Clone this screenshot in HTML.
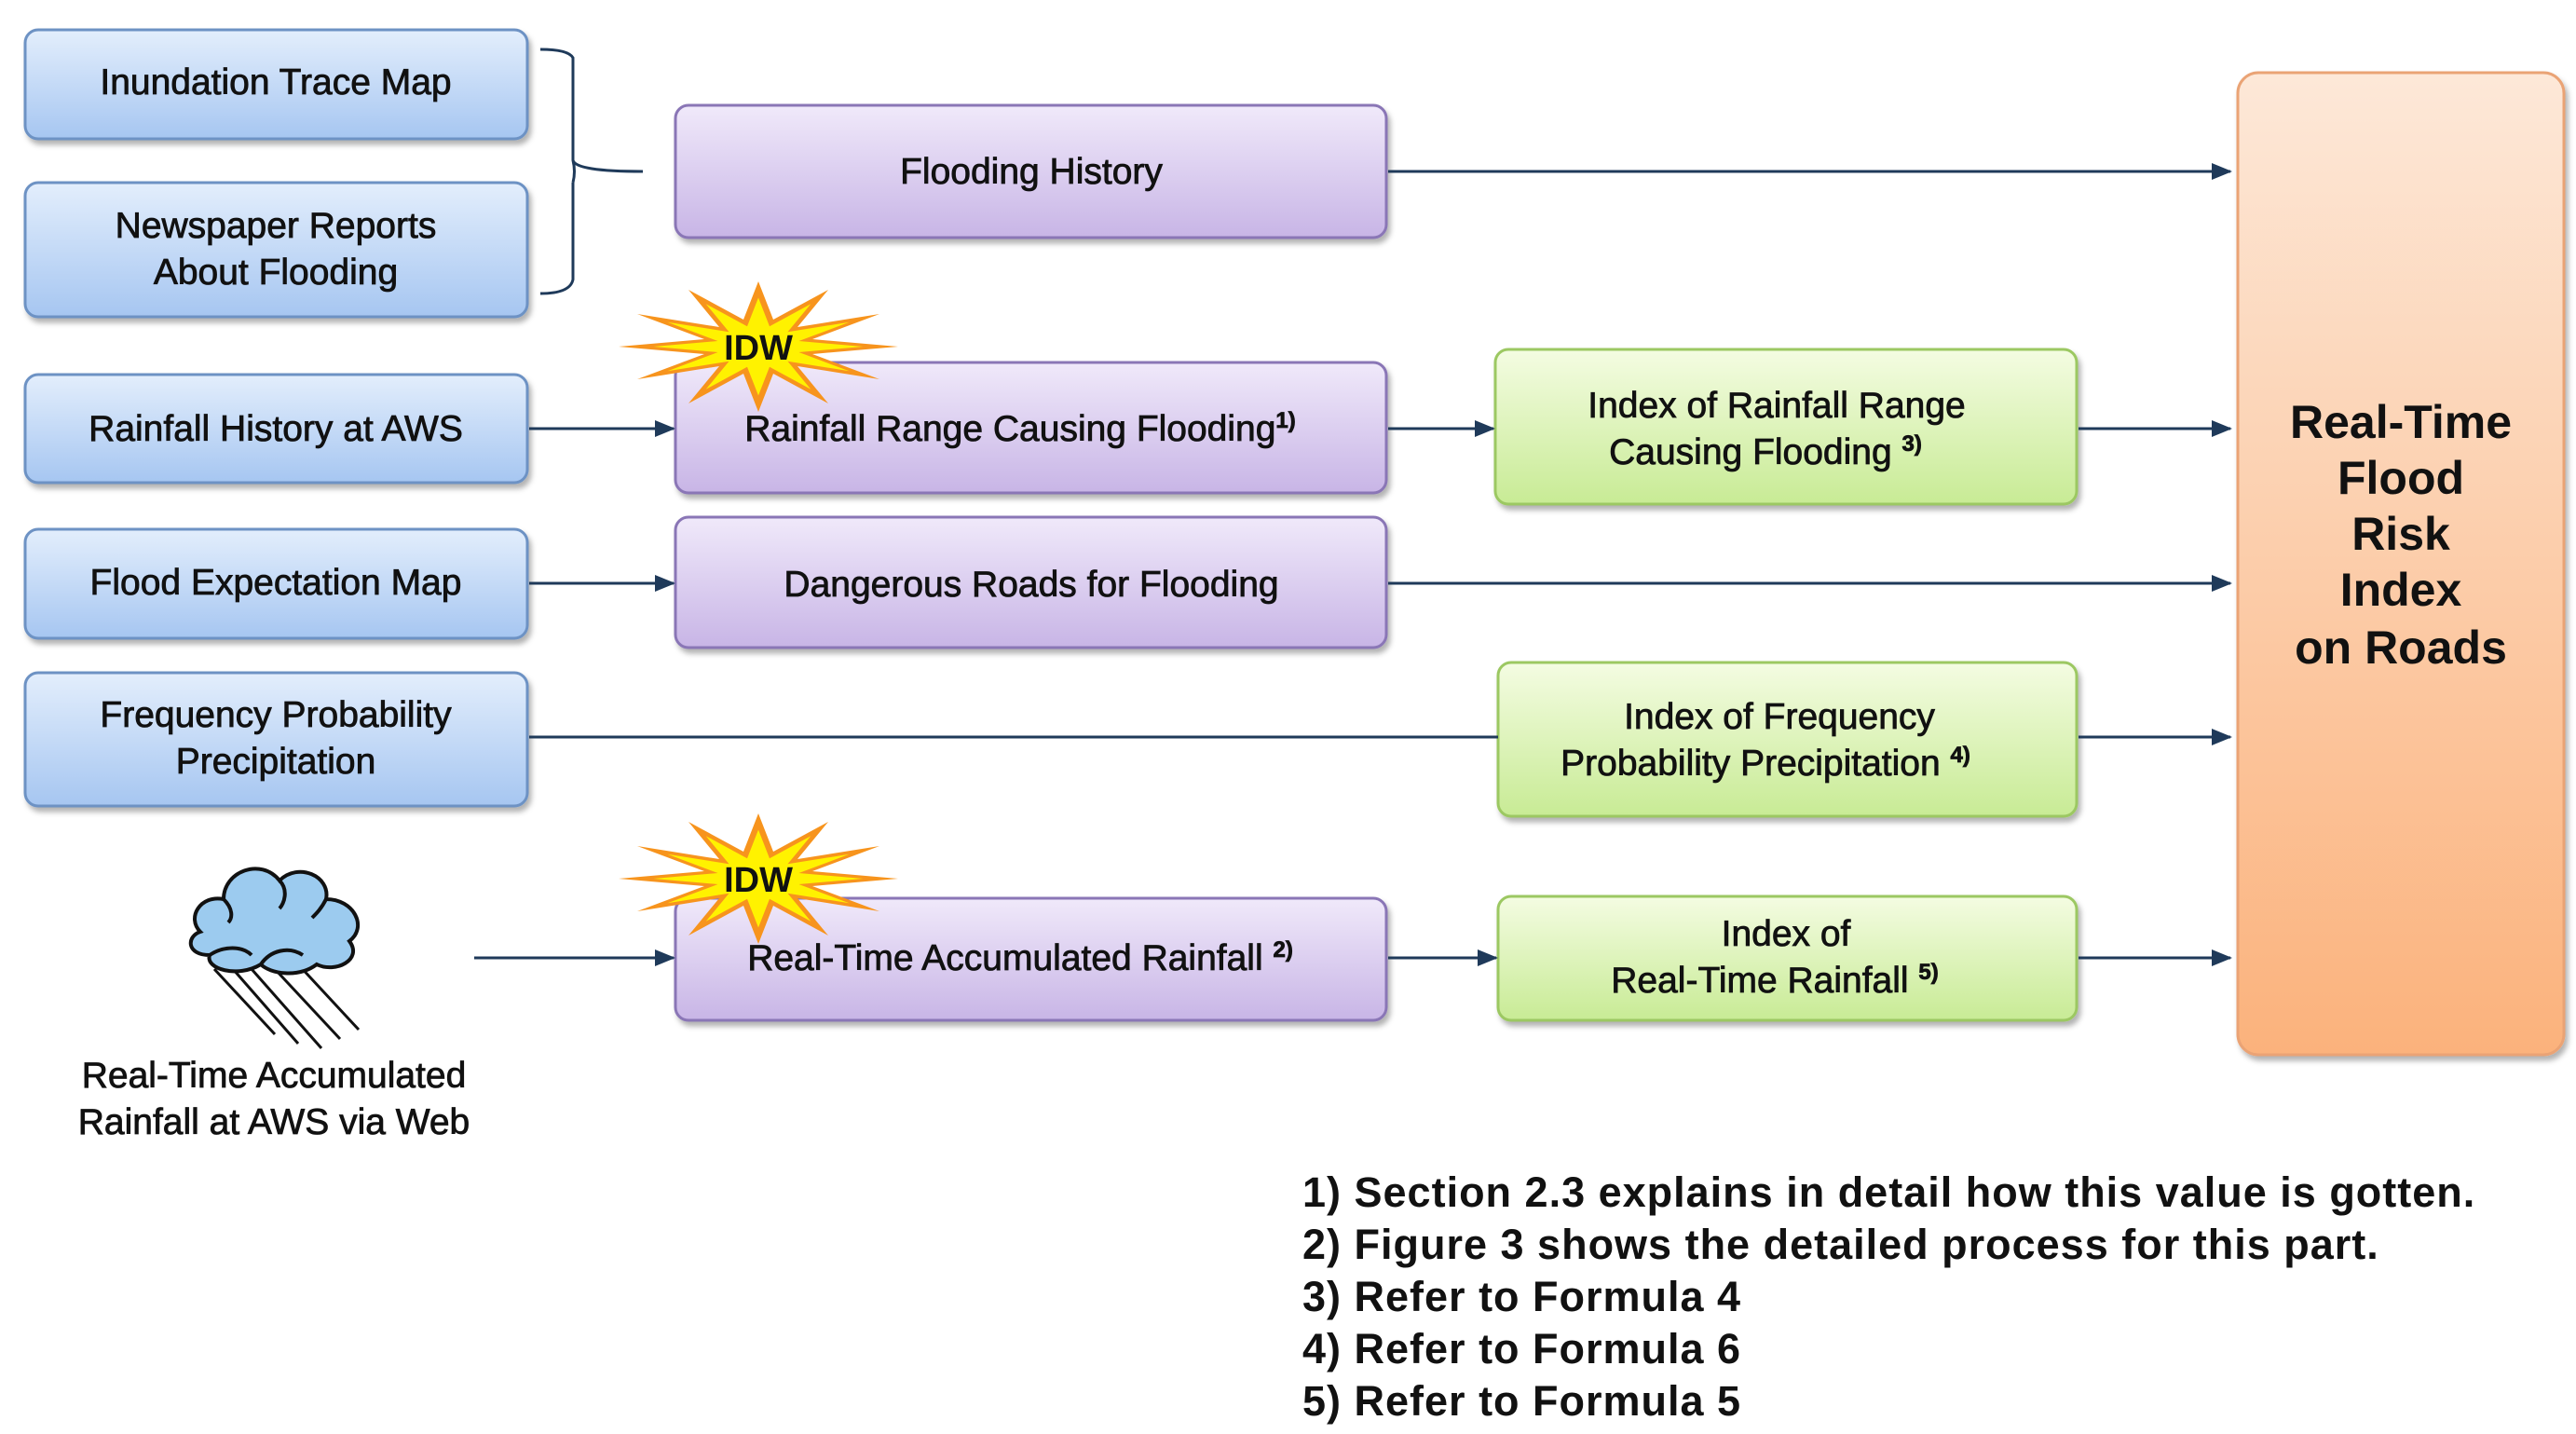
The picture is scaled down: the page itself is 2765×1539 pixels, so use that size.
<!DOCTYPE html>
<html><head><meta charset="utf-8"><style>
html,body{margin:0;padding:0;background:#fff;}
svg{display:block;}
text{font-family:"Liberation Sans",sans-serif;fill:#111;}
</style></head><body>
<svg width="2765" height="1539" viewBox="0 0 2765 1539" xmlns="http://www.w3.org/2000/svg">
<defs>
<linearGradient id="gb" x1="0" y1="0" x2="0" y2="1"><stop offset="0" stop-color="#e3eefc"/><stop offset="1" stop-color="#a6c6f1"/></linearGradient>
<linearGradient id="gp" x1="0" y1="0" x2="0" y2="1"><stop offset="0" stop-color="#f0e9fa"/><stop offset="1" stop-color="#c8b5e6"/></linearGradient>
<linearGradient id="gg" x1="0" y1="0" x2="0" y2="1"><stop offset="0" stop-color="#f4fce2"/><stop offset="1" stop-color="#c8eb95"/></linearGradient>
<linearGradient id="go" x1="0" y1="0" x2="0" y2="1"><stop offset="0" stop-color="#fde8d8"/><stop offset="1" stop-color="#fbb27c"/></linearGradient>
<filter id="sh" x="-5%" y="-5%" width="110%" height="120%"><feDropShadow dx="3" dy="5" stdDeviation="3" flood-color="#000" flood-opacity="0.3"/></filter>
<marker id="ar" markerWidth="22" markerHeight="18" refX="20" refY="9" orient="auto" markerUnits="userSpaceOnUse"><path d="M0,0 L22,9 L0,18 z" fill="#1f3a5a"/></marker>
</defs>

<g stroke-width="3" filter="url(#sh)">
<rect x="27" y="32" width="539" height="117" rx="14" fill="url(#gb)" stroke="#6d92c4"/>
<rect x="27" y="196" width="539" height="144" rx="14" fill="url(#gb)" stroke="#6d92c4"/>
<rect x="27" y="402" width="539" height="116" rx="14" fill="url(#gb)" stroke="#6d92c4"/>
<rect x="27" y="568" width="539" height="117" rx="14" fill="url(#gb)" stroke="#6d92c4"/>
<rect x="27" y="722" width="539" height="143" rx="14" fill="url(#gb)" stroke="#6d92c4"/>
<rect x="725" y="113" width="763" height="142" rx="14" fill="url(#gp)" stroke="#8a76b6"/>
<rect x="725" y="389" width="763" height="140" rx="14" fill="url(#gp)" stroke="#8a76b6"/>
<rect x="725" y="555" width="763" height="140" rx="14" fill="url(#gp)" stroke="#8a76b6"/>
<rect x="725" y="964" width="763" height="131" rx="14" fill="url(#gp)" stroke="#8a76b6"/>
<rect x="1605" y="375" width="624" height="166" rx="14" fill="url(#gg)" stroke="#9cc862"/>
<rect x="1608" y="711" width="621" height="165" rx="14" fill="url(#gg)" stroke="#9cc862"/>
<rect x="1608" y="962" width="621" height="133" rx="14" fill="url(#gg)" stroke="#9cc862"/>
<rect x="2402" y="78" width="350" height="1054" rx="22" fill="url(#go)" stroke="#eaa374"/>
</g>

<path d="M580,53 Q610,53 615,62 L615,172 Q618,184 690,184 M615,196 L615,300 Q612,315 580,315 M615,172 Q618,184 615,196" fill="none" stroke="#1f3a5a" stroke-width="3"/>

<g stroke="#1f3a5a" stroke-width="3" fill="none" marker-end="url(#ar)">
<line x1="1490" y1="184" x2="2394" y2="184"/>
<line x1="568" y1="460" x2="723" y2="460"/>
<line x1="1490" y1="460" x2="1603" y2="460"/>
<line x1="2231" y1="460" x2="2394" y2="460"/>
<line x1="568" y1="626" x2="723" y2="626"/>
<line x1="1490" y1="626" x2="2394" y2="626"/>
<line x1="2231" y1="791" x2="2394" y2="791"/>
<line x1="509" y1="1028" x2="723" y2="1028"/>
<line x1="1490" y1="1028" x2="1606" y2="1028"/>
<line x1="2231" y1="1028" x2="2394" y2="1028"/>
</g>
<line x1="568" y1="791" x2="1608" y2="791" stroke="#1f3a5a" stroke-width="3"/>

<g transform="translate(814,372)">
<polygon points="150,0 58,8 130,35 42,21 75,61 16,29 0,70 -16,29 -75,61 -42,21 -130,35 -58,8 -150,0 -58,-8 -130,-35 -42,-21 -75,-61 -16,-29 0,-70 16,-29 75,-61 42,-21 130,-35 58,-8" fill="#f7941d"/>
<polygon transform="scale(0.75)" points="150,0 58,8 130,35 42,21 75,61 16,29 0,70 -16,29 -75,61 -42,21 -130,35 -58,8 -150,0 -58,-8 -130,-35 -42,-21 -75,-61 -16,-29 0,-70 16,-29 75,-61 42,-21 130,-35 58,-8" fill="#fff200"/>
<text x="0" y="14" text-anchor="middle" font-size="38" font-weight="bold">IDW</text>
</g>
<g transform="translate(814,943)">
<polygon points="150,0 58,8 130,35 42,21 75,61 16,29 0,70 -16,29 -75,61 -42,21 -130,35 -58,8 -150,0 -58,-8 -130,-35 -42,-21 -75,-61 -16,-29 0,-70 16,-29 75,-61 42,-21 130,-35 58,-8" fill="#f7941d"/>
<polygon transform="scale(0.75)" points="150,0 58,8 130,35 42,21 75,61 16,29 0,70 -16,29 -75,61 -42,21 -130,35 -58,8 -150,0 -58,-8 -130,-35 -42,-21 -75,-61 -16,-29 0,-70 16,-29 75,-61 42,-21 130,-35 58,-8" fill="#fff200"/>
<text x="0" y="14" text-anchor="middle" font-size="38" font-weight="bold">IDW</text>
</g>

<g stroke="#111" stroke-width="4">
<g stroke-width="3">
<line x1="250" y1="1040" x2="320" y2="1120"/><line x1="270" y1="1040" x2="345" y2="1125"/><line x1="295" y1="1040" x2="365" y2="1115"/><line x1="320" y1="1035" x2="385" y2="1105"/><line x1="230" y1="1040" x2="295" y2="1110"/>
</g>
<path d="M215,1000 C200,985 215,960 240,965 C240,935 280,920 300,945 C320,925 355,940 350,965 C380,965 395,995 375,1010 C390,1030 360,1045 340,1035 C320,1050 290,1045 280,1035 C255,1050 220,1040 225,1025 C200,1025 200,1005 215,1000 Z" fill="#9ccbef"/>
<path d="M240,965 C250,975 250,985 245,990 M300,945 C310,955 305,970 300,975 M350,965 C345,975 340,980 335,985 M225,1025 C240,1015 260,1015 270,1025 M280,1035 C290,1020 310,1015 325,1025" fill="none"/>
</g>
<g stroke="#111" stroke-width="0.8">
<text x="294" y="1167" text-anchor="middle" font-size="39">Real-Time Accumulated</text>
<text x="294" y="1217" text-anchor="middle" font-size="39">Rainfall at AWS via Web</text>

<g font-size="39" text-anchor="middle">
<text x="296" y="101">Inundation Trace Map</text>
<text x="296" y="255">Newspaper Reports</text>
<text x="296" y="305">About Flooding</text>
<text x="296" y="473">Rainfall History at AWS</text>
<text x="296" y="638">Flood Expectation Map</text>
<text x="296" y="780">Frequency Probability</text>
<text x="296" y="830">Precipitation</text>
<text x="1107" y="197">Flooding History</text>
<text x="1095" y="473">Rainfall Range Causing Flooding<tspan font-size="24" dy="-14" font-weight="bold">1)</tspan></text>
<text x="1107" y="640">Dangerous Roads for Flooding</text>
<text x="1095" y="1041">Real-Time Accumulated Rainfall <tspan font-size="24" dy="-14" font-weight="bold">2)</tspan></text>
<text x="1907" y="448">Index of Rainfall Range</text>
<text x="1895" y="498">Causing Flooding <tspan font-size="24" dy="-14" font-weight="bold">3)</tspan></text>
<text x="1910" y="782">Index of Frequency</text>
<text x="1895" y="832">Probability Precipitation <tspan font-size="24" dy="-14" font-weight="bold">4)</tspan></text>
<text x="1917" y="1015">Index of</text>
<text x="1905" y="1065">Real-Time Rainfall <tspan font-size="24" dy="-14" font-weight="bold">5)</tspan></text>
</g>
</g>
<g font-size="50" font-weight="bold" text-anchor="middle">
<text x="2577" y="470">Real-Time</text>
<text x="2577" y="530">Flood</text>
<text x="2577" y="590">Risk</text>
<text x="2577" y="650">Index</text>
<text x="2577" y="712">on Roads</text>
</g>
<g font-size="45" font-weight="bold" letter-spacing="1">
<text x="1398" y="1295">1) Section 2.3 explains in detail how this value is gotten.</text>
<text x="1398" y="1351">2) Figure 3 shows the detailed process for this part.</text>
<text x="1398" y="1407">3) Refer to Formula 4</text>
<text x="1398" y="1463">4) Refer to Formula 6</text>
<text x="1398" y="1519">5) Refer to Formula 5</text>
</g>
</svg>
</body></html>
